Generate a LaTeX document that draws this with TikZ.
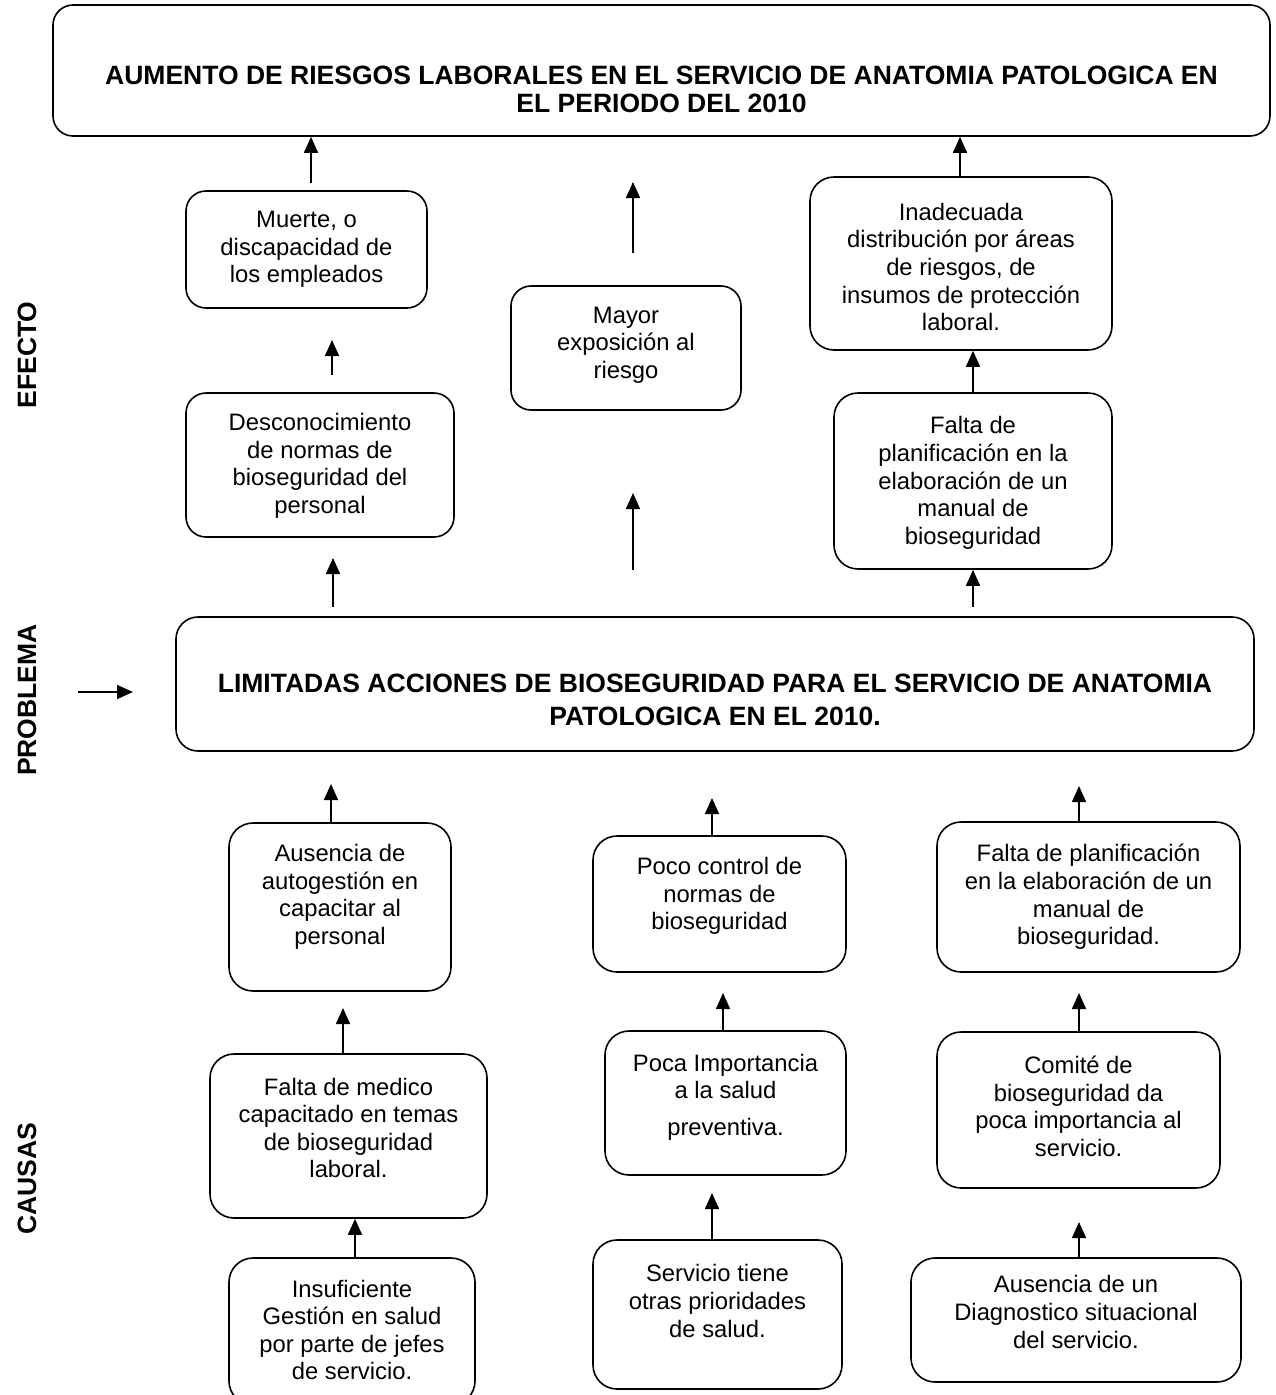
\documentclass[tikz,border=0pt]{standalone}
\usepackage{fontspec}
\setmainfont{Liberation Sans}
\usetikzlibrary{arrows.meta}
\tikzset{
  box/.style={draw, line width=1.6pt, rounded corners=20pt, inner sep=0pt},
  txt/.style={font=\fontsize{23.8}{27.6}\selectfont, align=center, inner sep=0pt},
  ttl/.style={font=\fontsize{26.5}{28}\selectfont\bfseries, align=center, inner sep=0pt},
  lab/.style={font=\fontsize{26.5}{28}\selectfont\bfseries, inner sep=0pt, rotate=90},
  arr/.style={-{Triangle[length=16pt,width=14pt]}, line width=1.6pt}
}
\begin{document}
\begin{tikzpicture}[x=1pt,y=-1pt]
\clip (0,0) rectangle (1276,1395);
\fill[white] (0,0) rectangle (1276,1395);

% ---------- boxes ----------
\node[box, minimum width=1217pt, minimum height=131pt] (top) at (661.5,70.5) {};
\node[ttl] (topT) at (661.5,89) {AUMENTO DE RIESGOS LABORALES EN EL SERVICIO DE ANATOMIA PATOLOGICA EN\\EL PERIODO DEL 2010};

\node[box, minimum width=241pt, minimum height=117pt] (muerte) at (306.5,249.5) {};
\node[txt] (muerteT) at (306.5,249.5) {Muerte, o\\discapacidad de\\los empleados};

\node[box, minimum width=268pt, minimum height=144pt] (descon) at (320,465) {};
\node[txt] (desconT) at (320,466) {Desconocimiento\\de normas de\\bioseguridad del\\personal};

\node[box, minimum width=230pt, minimum height=124pt] (mayor) at (626,348) {};
\node[txt] (mayorT) at (626,345) {Mayor\\exposición al\\riesgo};

\node[box, minimum width=302pt, minimum height=173pt, rounded corners=24pt] (inadec) at (961,263.5) {};
\node[txt] (inadecT) at (961,267) {Inadecuada\\distribución por áreas\\de riesgos, de\\insumos de protección\\laboral.};

\node[box, minimum width=278pt, minimum height=176pt, rounded corners=24pt] (faltaE) at (973,481) {};
\node[txt] (faltaET) at (973,483) {Falta de\\planificación en la\\elaboración de un\\manual de\\bioseguridad};

\node[box, minimum width=1078pt, minimum height=134pt, rounded corners=22pt] (problem) at (715,684) {};
\node[ttl, font=\fontsize{26.5}{33}\selectfont\bfseries] (problemT) at (715,700) {LIMITADAS ACCIONES DE BIOSEGURIDAD PARA EL SERVICIO DE ANATOMIA\\PATOLOGICA EN EL 2010.};

\node[box, minimum width=222pt, minimum height=168pt, rounded corners=24pt] (ausencia) at (340,907) {};
\node[txt] (ausenciaT) at (340,897) {Ausencia de\\autogestión en\\capacitar al\\personal};

\node[box, minimum width=277pt, minimum height=164pt, rounded corners=24pt] (medico) at (348.5,1136) {};
\node[txt] (medicoT) at (348.5,1128) {Falta de medico\\capacitado en temas\\de bioseguridad\\laboral.};

\node[box, minimum width=246pt, minimum height=147pt, rounded corners=24pt] (insuf) at (352,1331.5) {};
\node[txt] (insufT) at (352,1330) {Insuficiente\\Gestión en salud\\por parte de jefes\\de servicio.};

\node[box, minimum width=253pt, minimum height=136pt, rounded corners=24pt] (poco) at (719.5,904) {};
\node[txt] (pocoT) at (719.5,896) {Poco control de\\normas de\\bioseguridad};

\node[box, minimum width=241pt, minimum height=144pt, rounded corners=24pt] (pocaimp) at (725.5,1103) {};
\node[txt] (pocaimpT) at (725.5,1097) {Poca Importancia\\a la salud\\[9pt]preventiva.};

\node[box, minimum width=249pt, minimum height=149pt, rounded corners=24pt] (servicio) at (717.5,1314.5) {};
\node[txt] (servicioT) at (717.5,1301) {Servicio tiene\\otras prioridades\\de salud.};

\node[box, minimum width=303pt, minimum height=150pt, rounded corners=24pt] (faltaC) at (1088.5,897) {};
\node[txt] (faltaCT) at (1088.5,897) {Falta de planificación\\en la elaboración de un\\manual de\\bioseguridad.};

\node[box, minimum width=283pt, minimum height=156pt, rounded corners=24pt] (comite) at (1078.5,1110) {};
\node[txt] (comiteT) at (1078.5,1106.5) {Comité de\\bioseguridad da\\poca importancia al\\servicio.};

\node[box, minimum width=330pt, minimum height=124pt, rounded corners=24pt] (diag) at (1076,1320) {};
\node[txt] (diagT) at (1076,1312) {Ausencia de un\\Diagnostico situacional\\del servicio.};

% ---------- side labels ----------
\node[lab] (efecto) at (27,355) {EFECTO};
\node[lab] (problema) at (27,700) {PROBLEMA};
\node[lab] (causas) at (27,1179) {CAUSAS};

% ---------- arrow coordinates ----------
\coordinate (a1) at (311,183);
\coordinate (a2s) at (332,375); \coordinate (a2e) at (332,340);
\coordinate (a3s) at (333,607); \coordinate (a3e) at (333,558);
\coordinate (m1s) at (633,253); \coordinate (m1e) at (633,182);
\coordinate (m2s) at (633,570); \coordinate (m2e) at (633,493);
\coordinate (r1) at (960,177);
\coordinate (r2) at (973,393);
\coordinate (r3) at (973,607);
\coordinate (ls) at (78,692); \coordinate (le) at (133,692);
\coordinate (c1) at (331,784);
\coordinate (c2) at (343,1008);
\coordinate (c3) at (355,1258);
\coordinate (c4) at (712,798);
\coordinate (c5) at (723,993);
\coordinate (c6) at (712,1193);
\coordinate (c7) at (1079,786);
\coordinate (c8) at (1079,993);
\coordinate (c9) at (1079,1222);

% ---------- arrows ----------
\draw[arr] (a1) -- (a1 |- top.south);
\draw[arr] (a2s) -- (a2e);
\draw[arr] (a3s) -- (a3e);
\draw[arr] (m1s) -- (m1e);
\draw[arr] (m2s) -- (m2e);
\draw[arr] (r1 |- inadec.north) -- (r1 |- top.south);
\draw[arr] (r2 |- faltaE.north) -- (r2 |- inadec.south);
\draw[arr] (r3) -- (r3 |- faltaE.south);
\draw[arr] (ls) -- (le);
\draw[arr] (c1 |- ausencia.north) -- (c1);
\draw[arr] (c2 |- medico.north) -- (c2);
\draw[arr] (c3 |- insuf.north) -- (c3 |- medico.south);
\draw[arr] (c4 |- poco.north) -- (c4);
\draw[arr] (c5 |- pocaimp.north) -- (c5);
\draw[arr] (c6 |- servicio.north) -- (c6);
\draw[arr] (c7 |- faltaC.north) -- (c7);
\draw[arr] (c8 |- comite.north) -- (c8);
\draw[arr] (c9 |- diag.north) -- (c9);
\end{tikzpicture}
\end{document}
